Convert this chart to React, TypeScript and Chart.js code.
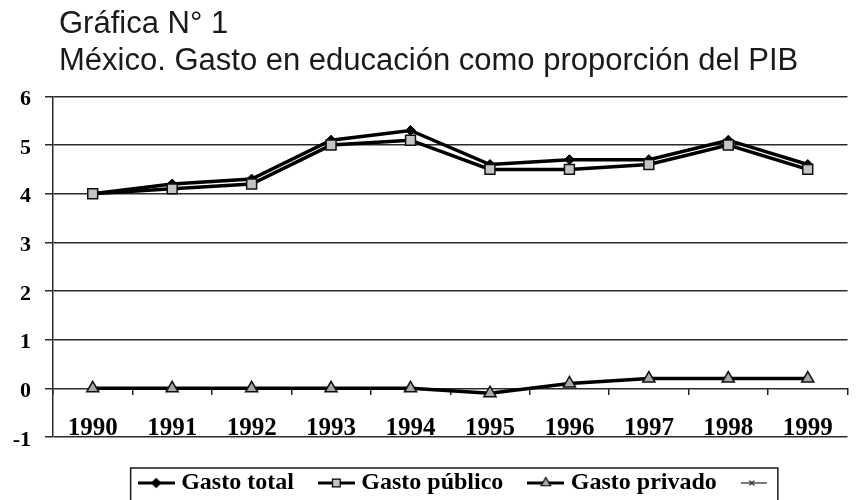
import React, { useEffect, useRef } from 'react';
import { Chart, registerables } from 'chart.js';
import { drawPoint } from 'chart.js/helpers';

Chart.register(...registerables);

const years = ['1990', '1991', '1992', '1993', '1994', '1995', '1996', '1997', '1998', '1999'];
const gastoTotal = [4.0, 4.2, 4.3, 5.1, 5.3, 4.6, 4.7, 4.7, 5.1, 4.6];
const gastoPublico = [4.0, 4.1, 4.2, 5.0, 5.1, 4.5, 4.5, 4.6, 5.0, 4.5];
const gastoPrivado = [0, 0, 0, 0, 0, -0.1, 0.1, 0.2, 0.2, 0.2];
const serieSinNombre: (number | null)[] = [];
const seriesNames = ['Gasto total', 'Gasto público', 'Gasto privado', ''];
const yTicks = [-1, 0, 1, 2, 3, 4, 5, 6];
const titleLines = ['Gráfica N° 1', 'México. Gasto en educación como proporción del PIB'];

const SERIF = "'Liberation Serif', 'Times New Roman', serif";
const SANS = "'Liberation Sans', Arial, sans-serif";

function makeSample(
  style: string,
  radius: number,
  fill: string,
  lineW: number,
  color: string,
  x0 = 0,
  x1 = 37,
  mx = 18.5
) {
  const c = document.createElement('canvas');
  c.width = 37;
  c.height = 16;
  const g = c.getContext('2d') as CanvasRenderingContext2D;
  g.strokeStyle = color;
  g.lineWidth = lineW;
  g.beginPath();
  g.moveTo(x0, 8);
  g.lineTo(x1, 8);
  g.stroke();
  g.fillStyle = fill;
  g.strokeStyle = color;
  g.lineWidth = 1.2;
  drawPoint(g, { pointStyle: style as any, radius, borderWidth: 1.2, rotation: 0 } as any, mx, 8);
  return c;
}

export default function App() {
  const ref = useRef<HTMLCanvasElement>(null);

  useEffect(() => {
    if (!ref.current) return;
    const samples = [
      makeSample('rectRot', 4.5, '#000', 3, '#000'),
      makeSample('rect', 5.5, '#c4c4c4', 3, '#000'),
      makeSample('triangle', 5.5, '#a8a8a8', 3, '#000'),
      makeSample('crossRot', 3.5, '#333', 1.3, '#333', 0, 26, 11),
    ];

    const layoutTweaks = {
      id: 'layoutTweaks',
      afterLayout(chart: any) {
        const t = chart.titleBlock;
        if (t) {
          t.left += 59;
          t.right += 59;
        }
        const lg = chart.legend;
        if (lg) {
          lg.left += 13.5;
          lg.right += 13.5;
        }
      },
    };

    const legendBorder = {
      id: 'legendBorder',
      afterDraw(chart: any) {
        const hb = chart.legend && chart.legend.legendHitBoxes;
        if (!hb || !hb.length) return;
        const first = hb[0];
        const last = hb[hb.length - 1];
        const left = first.left - 12.5;
        const right = last.left + last.width - 6.5;
        const top = first.top - 3;
        const ctx = chart.ctx;
        ctx.save();
        ctx.strokeStyle = '#1a1a1a';
        ctx.lineWidth = 1.5;
        ctx.strokeRect(left, top, right - left, chart.height + 20 - top);
        ctx.restore();
      },
    };

    const chart = new Chart(ref.current, {
      type: 'line',
      data: {
        labels: years,
        datasets: [
          {
            label: seriesNames[0],
            data: gastoTotal,
            borderColor: '#000',
            borderWidth: 3.5,
            pointStyle: 'rectRot',
            pointRadius: 5,
            pointBackgroundColor: '#000',
            pointBorderColor: '#000',
            pointBorderWidth: 1,
            tension: 0,
            order: 3,
          },
          {
            label: seriesNames[1],
            data: gastoPublico,
            borderColor: '#000',
            borderWidth: 3.5,
            pointStyle: 'rect',
            pointRadius: 7,
            pointBackgroundColor: '#c4c4c4',
            pointBorderColor: '#111',
            pointBorderWidth: 1.5,
            tension: 0,
            order: 2,
          },
          {
            label: seriesNames[2],
            data: gastoPrivado,
            borderColor: '#000',
            borderWidth: 3.5,
            pointStyle: 'triangle',
            pointRadius: 7,
            pointBackgroundColor: '#a8a8a8',
            pointBorderColor: '#111',
            pointBorderWidth: 1.5,
            tension: 0,
            order: 1,
          },
          {
            label: seriesNames[3],
            data: serieSinNombre,
            borderColor: '#333',
            borderWidth: 1.3,
            pointStyle: 'crossRot',
            pointRadius: 4,
            tension: 0,
            order: 0,
          },
        ],
      },
      options: {
        responsive: false,
        animation: false,
        layout: { padding: { left: 0, right: 0, top: 0, bottom: -5 } },
        scales: {
          x: {
            type: 'category',
            position: { y: 0 } as any,
            offset: true,
            grid: {
              offset: true,
              drawOnChartArea: false,
              drawTicks: true,
              tickLength: 7,
              color: '#222',
              lineWidth: 1.5,
            },
            border: { display: false },
            ticks: {
              color: '#000',
              font: { family: SERIF, size: 25, weight: 'bold' },
              padding: 18.3,
              maxRotation: 0,
              minRotation: 0,
              autoSkip: false,
            },
          },
          x2: {
            type: 'category',
            axis: 'x',
            labels: years,
            position: 'bottom',
            grid: { display: false, drawTicks: false, drawOnChartArea: false },
            border: { display: false },
            ticks: { display: false },
            afterFit: (s: any) => {
              s.height = 4.5;
            },
          },
          y: {
            type: 'linear',
            min: yTicks[0],
            max: yTicks[yTicks.length - 1],
            ticks: {
              stepSize: 1,
              color: '#000',
              font: { family: SERIF, size: 22, weight: 'bold' },
              padding: 14,
              labelOffset: 3,
            },
            grid: {
              color: '#2a2a2a',
              lineWidth: 1.5,
              drawTicks: true,
              tickLength: 8,
            },
            border: { display: true, color: '#2a2a2a', width: 1.5 },
            afterFit: (s: any) => {
              s.width = 53;
            },
          },
        },
        plugins: {
          title: {
            display: true,
            text: titleLines,
            align: 'start',
            color: '#1a1a1a',
            font: { family: SANS, size: 31, weight: 'normal', lineHeight: 1.2 },
            padding: { top: 6, bottom: 16 },
          },
          legend: {
            display: true,
            position: 'bottom',
            fullSize: false,
            labels: {
              usePointStyle: true,
              pointStyleWidth: 26,
              padding: 29.5,
              color: '#000',
              font: { family: SERIF, size: 24, weight: 'bold' },
              generateLabels: (c: any) =>
                c.data.datasets.map((ds: any, i: number) => ({
                  text: ds.label,
                  pointStyle: samples[i],
                  fillStyle: '#000',
                  strokeStyle: '#000',
                  lineWidth: 0,
                  hidden: false,
                  datasetIndex: i,
                })),
            },
          },
          tooltip: { enabled: false },
        },
      },
      plugins: [layoutTweaks, legendBorder],
    } as any);

    return () => chart.destroy();
  }, []);

  return (
    <div style={{ position: 'absolute', left: 0, top: 0, width: 856, height: 500, background: '#fff' }}>
      <canvas ref={ref} width={856} height={500} style={{ display: 'block' }} />
    </div>
  );
}
